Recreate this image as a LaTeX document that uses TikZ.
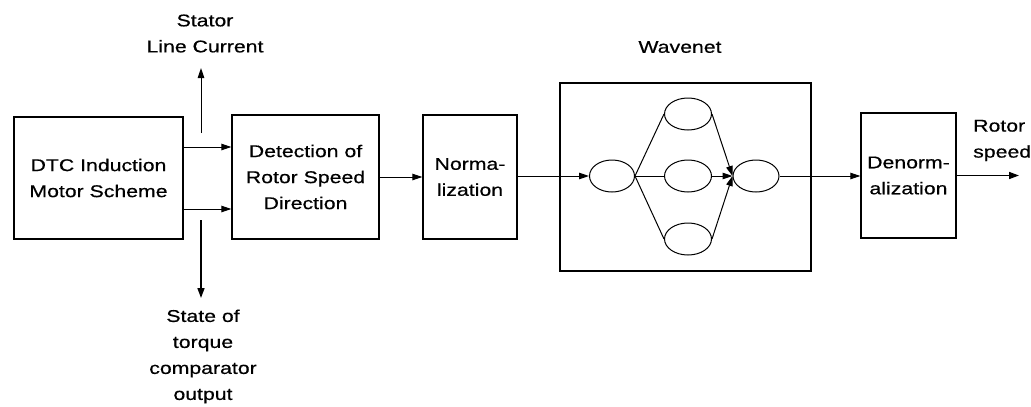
\documentclass[tikz,border=0pt]{standalone}
\usepackage{fontspec}
\setmainfont{Liberation Sans}[FakeStretch=1.25,FakeBold=0.6]
\usetikzlibrary{arrows.meta,calc,shapes.geometric}
\begin{document}
\begin{tikzpicture}[x=1pt,y=-1pt,
  blk/.style={draw,line width=1.3pt,inner sep=0pt,align=center,font=\fontsize{17}{26}\selectfont},
  neur/.style={draw,ellipse,line width=1pt,minimum width=45pt,minimum height=32pt,inner sep=0pt},
  lbl/.style={align=center,inner sep=0pt,font=\fontsize{17}{26}\selectfont},
  arr/.style={line width=1pt,-{Triangle[length=10pt,width=6.5pt]}},
  thk/.style={line width=1.6pt,-{Triangle[length=10pt,width=7pt]}},
  ln/.style={line width=1pt}]
\useasboundingbox (0,0) rectangle (1031,407);
\node[blk,minimum width=169pt,minimum height=122pt] (b1) at (98.5,178) {DTC Induction\\Motor Scheme};
\node[blk,minimum width=147pt,minimum height=124pt] (b2) at (305.5,177) {Detection of\\Rotor Speed\\Direction};
\node[blk,minimum width=94pt,minimum height=124pt] (b3) at (470,177) {Norma-\\lization};
\node[blk,minimum width=251pt,minimum height=188pt] (wn) at (685.5,177) {};
\node[lbl] (wt) at (680,47) {Wavenet};
\node[blk,minimum width=95pt,minimum height=125pt] (b4) at (908.5,175.5) {Denorm-\\alization};
\node[neur] (in) at (612,176) {};
\node[neur,minimum width=47pt] (h1) at (688,114) {};
\node[neur,minimum width=47pt] (h2) at (688,176) {};
\node[neur,minimum width=47pt] (h3) at (688,239) {};
\node[neur,minimum width=46pt] (out) at (756,176) {};
\node[lbl] (st) at (205,33.5) {Stator\\Line Current};
\node[lbl] (tq) at (203,356.5) {State of\\torque\\comparator\\output};
\node[lbl,align=left,anchor=west] (rs) at (973,140.5) {Rotor\\speed};
\coordinate (su0) at (201,133);
\coordinate (su1) at (201,68);
\coordinate (sd0) at (201,220);
\coordinate (sd1) at (201,298);
\coordinate (ro) at (1019,175.5);
\draw[arr] ([yshift=31pt]b1.east) -- ([yshift=31pt]b1.east -| b2.west);
\draw[arr] ([yshift=-31pt]b1.east) -- ([yshift=-31pt]b1.east -| b2.west);
\draw[arr] (su0) -- (su1);
\draw[thk] (sd0) -- (sd1);
\draw[arr] (b2.east) -- (b3.west);
\draw[arr] (b3.east |- in.west) -- (in.west);
\draw[ln] (in.east) -- (h1.west);
\draw[ln] (in.east) -- (h2.west);
\draw[ln] (in.east) -- (h3.west);
\draw[arr] (h1.east) -- (out.west);
\draw[arr] (h2.east) -- (out.west);
\draw[arr] (h3.east) -- (out.west);
\draw[arr] (out.east) -- (b4.west |- out.east);
\draw[thk] (b4.east |- ro) -- (ro);
\end{tikzpicture}
\end{document}
